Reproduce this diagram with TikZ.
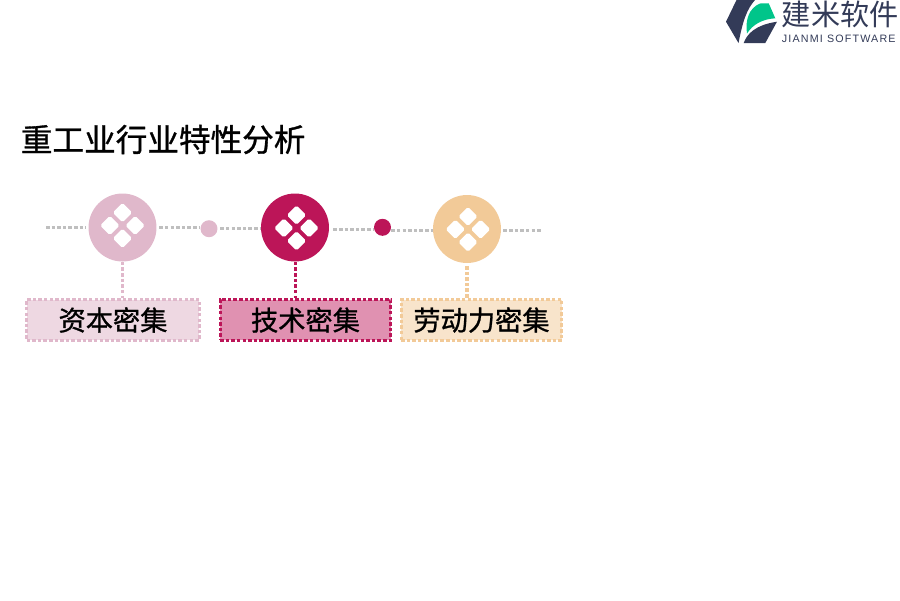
\documentclass[tikz,border=0pt]{standalone}
\usepackage{fontspec}
\setmainfont{Liberation Sans}
\newfontfamily\cjk{Noto Sans CJK SC}
\newfontfamily\cjkheavy[FakeBold=1]{Noto Sans CJK SC}
\newfontfamily\logolatin[LetterSpace=11]{Liberation Sans}
\usepackage{xcolor}
\usetikzlibrary{positioning,calc}

\definecolor{rosePale}{HTML}{E0B8CB}
\definecolor{roseDeep}{HTML}{BC1558}
\definecolor{sandTone}{HTML}{F2CA98}
\definecolor{dotGrey}{HTML}{BFBFBF}
\definecolor{logoInk}{HTML}{333B58}
\definecolor{logoGreen}{HTML}{00C58A}

\tikzset{
  hub/.style={circle, fill=#1, minimum size=1.36cm, inner sep=0},
  joint/.style={circle, fill=#1, minimum size=0.34cm, inner sep=0},
  petal/.style={rectangle, fill=white, rounded corners=1pt, rotate=45, minimum size=0.275cm, inner sep=0},
  dots/.style={draw=#1, line width=1.8pt, dash pattern=on 2pt off 1.2pt},
  tag/.style={draw=#1, line width=1.7pt, dash pattern=on 2pt off 1.2pt, minimum height=0.81cm, inner sep=0, font=\cjkheavy\fontsize{15.5}{18}\selectfont},
}

\begin{document}
\begin{tikzpicture}[x=0.02cm, y=-0.02cm]

  \useasboundingbox (0,0) rectangle (900,600);

  % Title
  \node[anchor=west, inner sep=0, font=\cjkheavy\fontsize{18}{20}\selectfont] (title) at (20.5,139.5) {重工业行业特性分析};

  % Hubs
  \node[hub=rosePale] (capital) at (122.5,227.5) {};
  \node[hub=roseDeep] (tech) at (295,227.5) {};
  \node[hub=sandTone] (labour) at (467,229) {};
  \foreach \h/\sx/\sy in {capital/0/-2, tech/1.5/0.5, labour/1/0.3}
    \foreach \dx/\dy/\k in {0/-12.8/n, 12.6/0/e, 0/12.8/s, -12.6/0/w}
      \node[petal] (\h\k) at ($(\h)+(\sx,\sy)+(\dx,\dy)$) {};

  % Joints
  \node[joint=rosePale] (jointa) at (209,228.7) {};
  \node[joint=roseDeep] (jointb) at (382.5,227.3) {};

  % Tags
  \node[tag=rosePale, fill=rosePale!55!white, minimum width=3.46cm] (capitaltag) at (113,320) {资本密集};
  \node[tag=roseDeep, fill=roseDeep!47!white, minimum width=3.42cm] (techtag) at (305.5,320) {技术密集};
  \node[tag=sandTone, fill=sandTone!50!white, minimum width=3.22cm] (labourtag) at (481.5,320) {劳动力密集};

  % Grey line
  \coordinate (linestart) at (46,227.3);
  \coordinate (lineend) at (542,230.3);
  \draw[dots=dotGrey, shorten >=1pt] (linestart) -- (capital.west |- linestart);
  \draw[dots=dotGrey, shorten <=1.4pt] (capital.east |- 0,227.3) -- (jointa.west |- 0,227.3);
  \draw[dots=dotGrey, shorten <=1.4pt] (jointa.east |- 0,228.3) -- (tech.west |- 0,228.3);
  \draw[dots=dotGrey, shorten <=2.3pt] (tech.east |- 0,229.3) -- (jointb.west |- 0,229.3);
  \draw[dots=dotGrey] (jointb.east |- 0,230.3) -- (labour.west |- 0,230.3);
  \draw[dots=dotGrey, shorten <=1.2pt] (labour.east |- lineend) -- (lineend);

  % Drops
  \draw[dots=rosePale] (capital.south) -- (capital.south |- capitaltag.north);
  \draw[dots=roseDeep] ([xshift=0.3pt]tech.south) -- ([xshift=0.3pt]tech.south |- techtag.north);
  \draw[dots=sandTone, shorten <=1.5pt] (labour.south) -- (labour.south |- labourtag.north);

  % Logo
  \fill[logoInk] (736.5,0) -- (755,0) .. controls (747,9) and (743,20) .. (738.5,43) -- (726,21.7) -- cycle;
  \fill[logoInk] (743.7,43) .. controls (747,34) and (755,25) .. (777,21.7) -- (765.3,43) -- cycle;
  \fill[logoGreen] (747,33.5) .. controls (745,20) and (749,8) .. (760,3.5) -- (768.7,3.3) -- (775.3,18.3) .. controls (763,19) and (753,24) .. cycle;
  \node[anchor=west, inner sep=0, text=logoInk, font=\cjk\fontsize{16.6}{18}\selectfont] (logotext) at (781.5,14) {建米软件};
  \node[inner sep=0, text=logoInk, font=\logolatin\fontsize{6.1}{7}\selectfont, below=4pt of logotext.south west, anchor=north west] (logosub) {JIANMI SOFTWARE};

\end{tikzpicture}
\end{document}
